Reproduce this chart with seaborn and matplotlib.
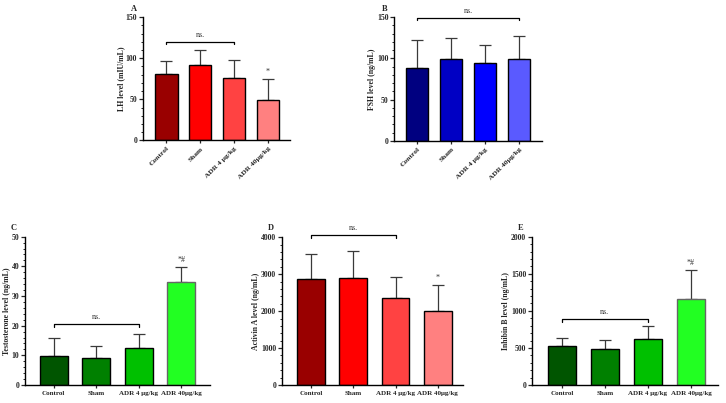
import matplotlib
matplotlib.use("Agg")
import matplotlib.pyplot as plt
import seaborn as sns
import pandas as pd
import numpy as np
from matplotlib.ticker import MultipleLocator

sns.set_style("ticks")
plt.rcParams['font.family'] = ['Liberation Serif', 'DejaVu Serif']

groups = ["Control", "Sham", "ADR 4 μg/kg", "ADR 40μg/kg"]

lh_mean = [80.5, 91.5, 76.5, 49.2]
lh_sd = [16.0, 18.3, 21.0, 25.5]
fsh_mean = [88.8, 99.7, 94.9, 98.9]
fsh_sd = [33.0, 24.3, 21.0, 28.4]
testo_mean = [9.8, 9.0, 12.5, 34.6]
testo_sd = [5.9, 4.1, 4.8, 5.1]
activin_mean = [2880, 2906, 2365, 1995]
activin_sd = [660, 714, 568, 705]
inhibin_mean = [531, 491, 626, 1162]
inhibin_sd = [99, 117, 167, 383]

reds = ["#990000", "#FF0000", "#FF4242", "#FF8080"]
blues = ["#000080", "#0000C4", "#0000FF", "#5A5AFF"]
greens = ["#005500", "#008000", "#00C000", "#22FF22"]

W, H = 726, 403
fig = plt.figure(figsize=(W / 100, H / 100), dpi=100)


def px_axes(l, r, b, t):
    return fig.add_axes([l / W, (H - b) / H, (r - l) / W, (b - t) / H])


def panel(ax, means, sds, colors, ylabel, ymax, ymajor, yminor, xlim, letter,
          bracket, bracket_y, star, rotate, edgecolors=None):
    df = pd.DataFrame({"group": groups, "value": means})
    sns.barplot(data=df, x="group", y="value", hue="group", palette=colors,
                legend=False, ax=ax, width=0.66, edgecolor="black",
                linewidth=1.0, errorbar=None, saturation=1, zorder=2)
    if edgecolors is not None:
        for p, ec in zip(ax.patches, edgecolors):
            p.set_edgecolor(ec)
    xs = np.arange(len(groups))
    ax.errorbar(xs, means, yerr=[np.zeros(len(sds)), sds], fmt="none",
                ecolor="#3a3a3a", elinewidth=0.9, capsize=4, capthick=0.9,
                zorder=1)
    ax.set_ylim(0, ymax)
    ax.set_xlim(*xlim)
    ax.yaxis.set_major_locator(MultipleLocator(ymajor))
    ax.yaxis.set_minor_locator(MultipleLocator(yminor))
    ax.tick_params(axis="y", which="major", length=3, width=0.9, pad=1,
                   labelsize=5.6)
    ax.tick_params(axis="y", which="minor", length=1.5, width=0.7)
    ax.tick_params(axis="x", which="major", length=2, width=0.9, pad=2,
                   labelsize=5.4 if rotate else 5.0)
    for lab in ax.get_yticklabels():
        lab.set_fontweight("bold")
    ax.set_xlabel("")
    ax.set_ylabel(ylabel, fontsize=5.6, fontweight="bold", labelpad=0.5)
    if rotate:
        ax.set_xticks(xs)
        ax.set_xticklabels(groups, rotation=45, ha="right",
                           rotation_mode="anchor", fontweight="bold")
    else:
        ax.set_xticks(xs)
        ax.set_xticklabels(groups, fontweight="bold")
    for s in ["top", "right"]:
        ax.spines[s].set_visible(False)
    for s in ["left", "bottom"]:
        ax.spines[s].set_linewidth(1.0)
        ax.spines[s].set_color("black")
    # bracket
    i0, i1 = bracket
    drop = ymax * 0.02
    ax.plot([i0, i0, i1, i1], [bracket_y - drop, bracket_y, bracket_y,
                               bracket_y - drop],
            color="black", lw=0.9, clip_on=False, zorder=3)
    ax.annotate("ns.", xy=((i0 + i1) / 2, bracket_y), xytext=(0, 2),
                textcoords="offset points", ha="center", va="bottom",
                fontsize=5.8, color="#333333", annotation_clip=False)
    if star:
        ax.annotate(star, xy=(3, means[3] + sds[3]), xytext=(0, 2.5),
                    textcoords="offset points", ha="center", va="bottom",
                    fontsize=5.8, color="#333333")
    ax.text(-0.06, 1.035, letter, transform=ax.transAxes, fontsize=6,
            fontweight="bold", ha="center", va="bottom")


axA = px_axes(142.7, 290, 140.3, 17.3)
panel(axA, lh_mean, lh_sd, reds, "LH level (mIU/mL)", 150, 50, 10,
      (-0.70, 3.65), "A", (0, 2), 120, "*", True)

axB = px_axes(394, 542, 141, 17)
panel(axB, fsh_mean, fsh_sd, blues, "FSH level (ng/mL)", 150, 50, 10,
      (-0.68, 3.67), "B", (0, 3), 149, None, True)

axC = px_axes(25, 210, 385, 236.7)
panel(axC, testo_mean, testo_sd, greens, "Testosterone level (ng/mL)", 50,
      10, 2, (-0.675, 3.68), "C", (0, 2), 20.6, "*#", False,
      edgecolors=["black", "black", "black", "#666666"])

axD = px_axes(281.7, 463, 385, 237.3)
panel(axD, activin_mean, activin_sd, reds, "Activin A level (ng/mL)", 4000,
      1000, 200, (-0.70, 3.6), "D", (0, 2), 4060, "*", False)

axE = px_axes(531.7, 718, 385, 236.7)
panel(axE, inhibin_mean, inhibin_sd, greens, "Inhibin B level (ng/mL)", 2000,
      500, 100, (-0.70, 3.63), "E", (0, 2), 892, "*#", False,
      edgecolors=["black", "black", "black", "#666666"])

fig.savefig("out.png", dpi=100, facecolor="white")
